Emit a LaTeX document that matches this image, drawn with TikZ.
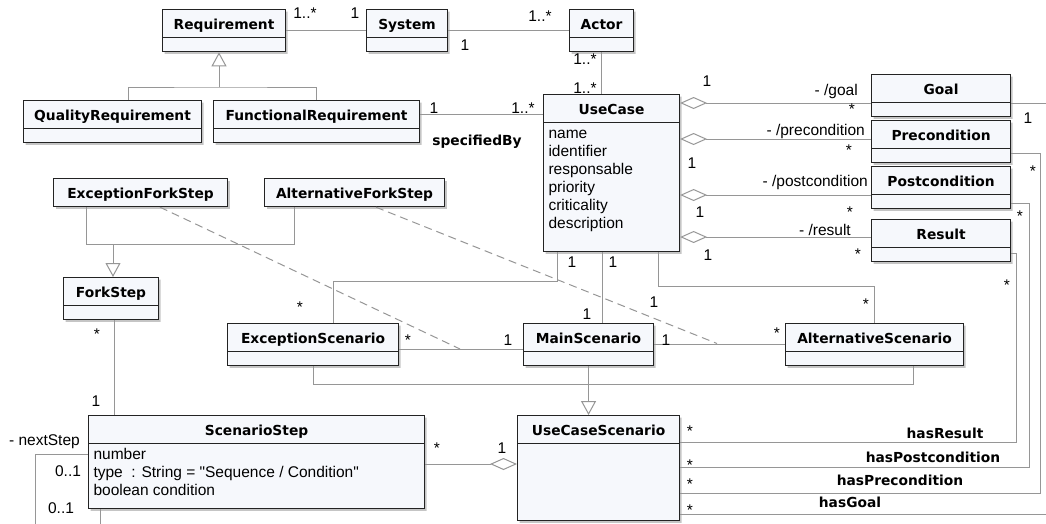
\documentclass[tikz,border=0pt]{standalone}
\usepackage{fontspec}
\setmainfont{Liberation Sans}
\newfontfamily\dejavu{DejaVu Sans}
\usetikzlibrary{shapes.multipart, arrows.meta, shadows}
\definecolor{LineGray}{RGB}{150, 150, 150}
\definecolor{BoxEdge}{RGB}{35, 35, 35}
\definecolor{BoxFill}{RGB}{246, 248, 252}
\newcommand{\cls}[1]{{\dejavu\bfseries\fontsize{13.8pt}{16pt}\selectfont\rule[-5pt]{0pt}{21pt}#1}}
\newcommand{\noattr}{\rule{0pt}{7pt}}

\begin{document}
\begin{tikzpicture}[x=1pt, y=-1pt,
    umlclass/.style={rectangle split, rectangle split parts=2, draw=BoxEdge, line width=1.1pt,
      fill=BoxFill, drop shadow={shadow xshift=2pt, shadow yshift=-2pt, fill=black!45, opacity=0.5},
      anchor=north west, inner xsep=5pt, inner ysep=3pt, font=\fontsize{15.5pt}{18pt}\selectfont},
    umlsingle/.style={umlclass, rectangle split parts=1},
    assoc/.style={draw=LineGray, line width=1pt},
    inherit/.style={assoc, -{Triangle[open, length=14pt, width=15pt, fill=white]}},
    aggr/.style={assoc, {Diamond[open, length=27pt, width=12pt, fill=white]}-},
    dashlink/.style={assoc, dash pattern=on 8pt off 5pt},
    mult/.style={anchor=base, inner sep=0pt, font=\fontsize{15.5pt}{18pt}\selectfont},
    role/.style={mult, anchor=base east},
    relname/.style={anchor=base, inner sep=0pt, font=\dejavu\bfseries\fontsize{13.8pt}{16pt}\selectfont}]
    \useasboundingbox (0,0) rectangle (1046,523);
    \clip (0,0) rectangle (1046,523);

    % Requirements and actors
    \node[umlclass, minimum width=123pt] (requirement) at (162,9) {\cls{Requirement}\nodepart{two}\noattr};
    \node[umlclass, minimum width=81pt] (system) at (366,9) {\cls{System}\nodepart{two}\noattr};
    \node[umlclass, minimum width=64pt] (actor) at (569,9) {\cls{Actor}\nodepart{two}\noattr};
    \node[umlclass, minimum width=178pt] (quality) at (23,100) {\cls{QualityRequirement}\nodepart{two}\noattr};
    \node[umlclass, minimum width=206pt] (functional) at (213,100) {\cls{FunctionalRequirement}\nodepart{two}\noattr};

    % Use case
    \node[umlclass, minimum width=136pt] (usecase) at (543,94) {\cls{UseCase}\nodepart{two}%
      \begin{tabular}{@{}p{126pt}@{}}
        name\\ identifier\\ responsable\\ priority\\ criticality\\ description\rule[-19.4pt]{0pt}{1pt}
      \end{tabular}};
    \node[umlclass, minimum width=139pt] (goal) at (871,74) {\cls{Goal}\nodepart{two}\noattr};
    \node[umlclass, minimum width=139pt] (precondition) at (871,120) {\cls{Precondition}\nodepart{two}\noattr};
    \node[umlclass, minimum width=139pt] (postcondition) at (871,166) {\cls{Postcondition}\nodepart{two}\noattr};
    \node[umlclass, minimum width=139pt] (result) at (871,219) {\cls{Result}\nodepart{two}\noattr};

    % Scenarios and steps
    \node[umlsingle, minimum width=174pt] (efork) at (53,178) {\cls{ExceptionForkStep}};
    \node[umlsingle, minimum width=180pt] (afork) at (264,178) {\cls{AlternativeForkStep}};
    \node[umlclass, minimum width=95pt] (forkstep) at (63,277) {\cls{ForkStep}\nodepart{two}\noattr};
    \node[umlclass, minimum width=171pt] (exception) at (227,323) {\cls{ExceptionScenario}\nodepart{two}\noattr};
    \node[umlclass, minimum width=130pt] (mainsc) at (523,323) {\cls{MainScenario}\nodepart{two}\noattr};
    \node[umlclass, minimum width=178pt] (altsc) at (785,323) {\cls{AlternativeScenario}\nodepart{two}\noattr};
    \node[umlclass, minimum width=336pt] (scenstep) at (88,415) {\cls{ScenarioStep}\nodepart{two}%
      \begin{tabular}{@{}p{326pt}@{}}
        number\\ type\ \ : String = \textquotedbl Sequence / Condition\textquotedbl\\ boolean condition\rule[-9.4pt]{0pt}{1pt}
      \end{tabular}};
    \node[umlclass, minimum width=162pt] (ucscen) at (517,415) {\cls{UseCaseScenario}\nodepart{two}\rule{0pt}{70pt}};

    % Requirement links
    \coordinate (reqfork) at (219,87);
    \draw[assoc] (requirement.east) -- (system.west);
    \draw[assoc] (system.east) -- (actor.west);
    \draw[assoc] (actor.south) -- (actor.south |- usecase.north);
    \draw[inherit] (reqfork) -- (requirement.south -| reqfork);
    \draw[assoc] (quality.north -| 128,0) |- (reqfork) -| (functional.north);
    \draw[assoc] (functional.north east) ++(0,14) coordinate (spec) -- (spec -| usecase.west);

    % Aggregations of the use case
    \draw[aggr] (usecase.east |- 0,103) -- (goal.west |- 0,103);
    \draw[aggr] (usecase.east |- 0,139) -- (precondition.west |- 0,139);
    \draw[aggr] (usecase.east |- 0,195) -- (postcondition.west |- 0,195);
    \draw[aggr] (usecase.east |- 0,237) -- (result.west |- 0,237);
    \draw[assoc] (goal.east |- 0,103) -| (1052,514) -- (ucscen.east |- 0,514);
    \draw[assoc] (precondition.east |- 0,153) -| (1040,493) -- (ucscen.east |- 0,493);
    \draw[assoc] (postcondition.east |- 0,203) -| (1029,467) -- (ucscen.east |- 0,467);
    \draw[assoc] (result.east |- 0,253) -| (1016,442) -- (ucscen.east |- 0,442);

    % Scenario links
    \coordinate (excassoc) at (460,349);
    \coordinate (altassoc) at (717,343.5);
    \draw[assoc] (usecase.south -| 557,0) |- (333,281) -- (exception.north -| 333,0);
    \draw[assoc] (usecase.south -| 602,0) -- (mainsc.north -| 602,0);
    \draw[assoc] (usecase.south -| 658,0) |- (altsc.north |- 0,286) -- (altsc.north);
    \draw[assoc] (exception.east |- excassoc) -- (mainsc.west |- excassoc);
    \draw[assoc] (mainsc.east) -- (altsc.west);
    \draw[dashlink] (efork.south -| 160,0) -- (excassoc);
    \draw[dashlink] (afork.south -| 376,0) -- (altassoc);
    \draw[assoc] (exception.south) |- (913,384) -- (altsc.south -| 913,0);
    \draw[inherit] (mainsc.south) -- (mainsc.south |- ucscen.north);

    % Steps
    \coordinate (forkjoin) at (113,244);
    \draw[assoc] (efork.south -| 86,0) |- (294,244) -- (afork.south -| 294,0);
    \draw[inherit] (forkjoin) -- (forkstep.north -| forkjoin);
    \draw[assoc] (forkstep.south -| 114,0) -- (scenstep.north -| 114,0);
    \draw[aggr] (ucscen.west |- 0,464) -- (scenstep.east |- 0,464);
    \draw[assoc] (scenstep.west |- 0,454) -| (35,530);
    \draw[assoc] (scenstep.south -| 100,0) -- (100,530);

    % Multiplicities and role names
    \node[mult] (m-req) at (305,18) {1..*};
    \node[mult] (m-sys-a) at (355,18) {1};
    \node[mult] (m-sys-b) at (465,50) {1};
    \node[mult] (m-act-a) at (540,21) {1..*};
    \node[mult] (m-act-b) at (585,64) {1..*};
    \node[mult] (m-uc-act) at (585,93) {1..*};
    \node[mult] (m-fr) at (434,113) {1};
    \node[mult] (m-uc-fr) at (523,113) {1..*};
    \node[relname] (specifiedby) at (477,145) {specifiedBy};

    \node[mult] (m-goal-a) at (707,86) {1};
    \node[role] (r-goal) at (858,95) {- /goal};
    \node[mult] (m-goal-b) at (852,114) {*};
    \node[role] (r-pre) at (865,135) {- /precondition};
    \node[mult] (m-pre-b) at (849,155) {*};
    \node[mult] (m-pre-a) at (692,168) {1};
    \node[role] (r-post) at (868,186) {- /postcondition};
    \node[mult] (m-post-b) at (850,217) {*};
    \node[mult] (m-post-a) at (700,217) {1};
    \node[role] (r-res) at (851,235) {- /result};
    \node[mult] (m-res-b) at (858,259) {*};
    \node[mult] (m-res-a) at (708,260) {1};

    \node[mult] (m-goal-c) at (1028,123) {1};
    \node[mult] (m-pre-c) at (1033,176) {*};
    \node[mult] (m-post-c) at (1020,221) {*};
    \node[mult] (m-res-c) at (1007,290) {*};

    \node[mult] (m-uc-exc) at (572,267) {1};
    \node[mult] (m-uc-main) at (613,267) {1};
    \node[mult] (m-exc-uc) at (300,312) {*};
    \node[mult] (m-main-uc) at (587,319) {1};
    \node[mult] (m-uc-alt) at (654,307) {1};
    \node[mult] (m-alt-uc) at (866,309) {*};
    \node[mult] (m-exc-main) at (408,345) {*};
    \node[mult] (m-main-exc) at (508,345) {1};
    \node[mult] (m-main-alt) at (666,345) {1};
    \node[mult] (m-alt-main) at (777,338) {*};

    \node[mult] (m-fork) at (97,339) {*};
    \node[mult] (m-step-fork) at (96,406) {1};
    \node[mult] (m-step-ucs) at (437,453) {*};
    \node[mult] (m-ucs-step) at (502,453) {1};
    \node[role] (r-next) at (80,445) {- nextStep};
    \node[mult] (m-next-a) at (68,476) {0..1};
    \node[mult] (m-next-b) at (61,513) {0..1};

    \node[mult] (m-ucs-res) at (690,436) {*};
    \node[mult] (m-ucs-post) at (690,470) {*};
    \node[mult] (m-ucs-pre) at (690,489) {*};
    \node[mult] (m-ucs-goal) at (690,515) {*};
    \node[relname] (hasresult) at (945,438) {hasResult};
    \node[relname] (haspost) at (933,462) {hasPostcondition};
    \node[relname] (haspre) at (900,485) {hasPrecondition};
    \node[relname] (hasgoal) at (850,507) {hasGoal};
\end{tikzpicture}
\end{document}
